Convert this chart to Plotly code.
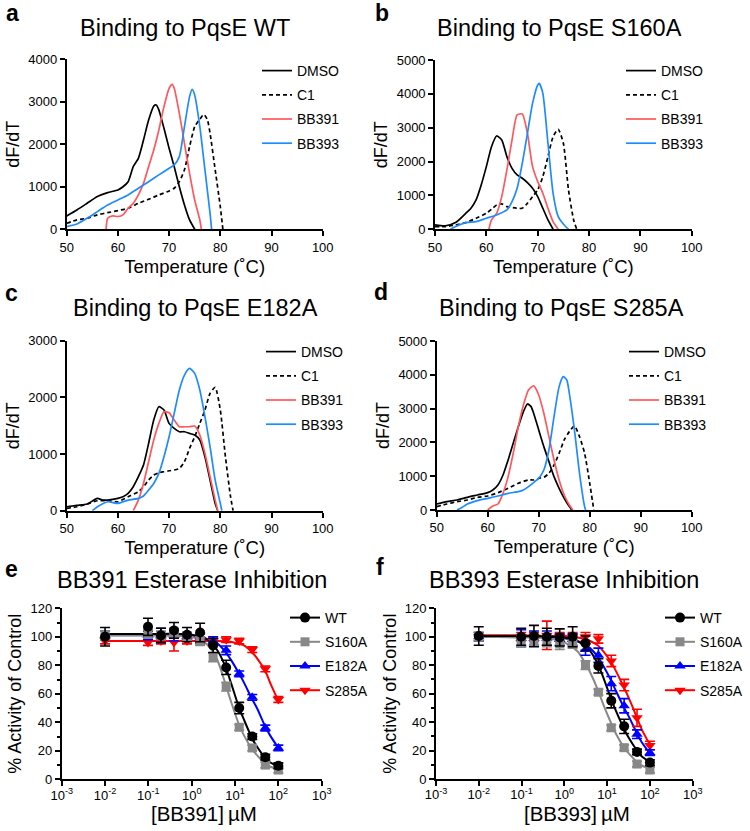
import plotly.graph_objects as go

# ---------------- Thermal shift data ----------------
# Panel a: PqsE WT
a_dmso_t = [50, 52, 54, 56, 58, 60, 61, 62, 63, 64, 65, 66, 67, 67.5, 68, 69, 70, 71, 72, 73, 74, 75]
a_dmso_v = [314, 455, 612, 770, 863, 925, 1000, 1120, 1475, 1670, 2100, 2570, 2900, 2925, 2810, 2376, 1905, 1475, 1000, 573, 220, 0]
a_c1_t = [50, 52, 54, 56, 58, 60, 62, 64, 66, 68, 70, 71, 72, 73, 74, 75, 76, 76.8, 77.5, 78, 79, 80, 80.5]
a_c1_v = [140, 220, 260, 340, 390, 440, 495, 610, 705, 808, 900, 965, 1120, 1400, 1945, 2415, 2590, 2705, 2570, 2260, 1400, 533, 0]
a_391_t = [57.7, 58, 59, 60, 61, 62, 63, 64, 65, 66, 67, 68, 69, 70, 70.6, 71, 72, 73, 74, 75, 76, 76.3]
a_391_v = [0, 260, 314, 300, 340, 495, 610, 808, 1080, 1475, 1865, 2337, 2886, 3318, 3412, 3318, 2730, 2023, 1318, 690, 220, 0]
a_393_t = [50, 52, 54, 56, 58, 60, 62, 64, 66, 68, 70, 71, 72, 73, 74, 74.5, 75, 76, 77, 78, 78.3]
a_393_v = [63, 125, 260, 416, 573, 690, 808, 965, 1120, 1280, 1435, 1515, 1710, 2416, 3122, 3294, 3160, 2416, 1396, 376, 0]

# Panel b: PqsE S160A
b_dmso_t = [50, 52, 54, 56, 57, 58, 59, 60, 61, 62, 63, 64, 65, 66, 67, 68, 69, 70, 71, 72, 73]
b_dmso_v = [128, 100, 197, 472, 620, 866, 1309, 1850, 2440, 2756, 2638, 2146, 1800, 1604, 1506, 1378, 1210, 965, 620, 276, 0]
b_c1_t = [50, 52, 54, 56, 58, 60, 61, 62, 63, 64, 66, 67, 68, 69, 70, 71, 72, 73, 74, 75, 76, 77, 77.6]
b_c1_v = [79, 79, 128, 197, 325, 472, 590, 718, 748, 670, 620, 620, 768, 965, 1161, 1555, 2146, 2736, 2953, 2540, 1161, 276, 0]
b_391_t = [60.5, 61, 62, 63, 64, 65, 66, 67, 68, 69, 70, 71, 72, 73, 74]
b_391_v = [0, 276, 472, 965, 1752, 2638, 3376, 3405, 2835, 1850, 1407, 1063, 620, 226, 0]
b_393_t = [53, 54, 56, 58, 60, 62, 64, 65, 66, 67, 68, 69, 70, 70.3, 71, 72, 73, 74, 75, 76]
b_393_v = [0, 79, 197, 226, 325, 423, 571, 817, 1210, 1949, 2835, 3720, 4262, 4311, 4016, 2540, 1063, 374, 157, 0]

# Panel c: PqsE E182A
c_dmso_t = [50, 52, 54, 56, 57, 58, 60, 61, 62, 63, 64, 65, 66, 67, 68, 69, 70, 71, 72, 73, 74, 75, 76, 77, 78, 79, 79.5]
c_dmso_v = [70, 94, 118, 218, 188, 188, 218, 247, 306, 424, 600, 806, 1188, 1600, 1835, 1776, 1541, 1453, 1394, 1394, 1365, 1335, 1247, 953, 541, 129, 0]
c_c1_t = [50, 52, 54, 56, 58, 60, 62, 64, 65, 66, 67, 68, 69, 70, 71, 72, 73, 74, 75, 76, 77, 78, 79, 80, 81, 82, 82.5]
c_c1_v = [41, 70, 118, 176, 176, 159, 247, 335, 424, 541, 630, 670, 688, 706, 718, 747, 865, 1100, 1306, 1541, 1776, 2070, 2176, 1776, 953, 247, 0]
c_391_t = [63, 64, 65, 66, 67, 68, 69, 70, 71, 72, 73, 74, 75, 76, 77, 78, 79, 79.5]
c_391_v = [0, 188, 482, 865, 1247, 1541, 1747, 1729, 1600, 1482, 1482, 1482, 1494, 1335, 1012, 600, 188, 0]
c_393_t = [55, 56, 58, 60, 62, 64, 65, 66, 67, 68, 69, 70, 71, 72, 73, 74, 75, 76, 77, 78, 79, 80, 80.3]
c_393_v = [0, 70, 159, 129, 188, 218, 259, 365, 482, 659, 953, 1306, 1718, 2129, 2394, 2512, 2424, 2129, 1659, 1129, 541, 129, 0]

# Panel d: PqsE S285A
d_dmso_t = [50, 52, 54, 56, 58, 60, 61, 62, 63, 64, 65, 66, 67, 67.8, 68.5, 69, 70, 71, 72, 73, 74, 75, 76, 76.5]
d_dmso_v = [177, 246, 296, 375, 444, 513, 592, 740, 1036, 1479, 1972, 2465, 2909, 3136, 3057, 2860, 2367, 1874, 1430, 986, 641, 345, 99, 0]
d_c1_t = [50, 52, 54, 56, 58, 60, 62, 64, 66, 68, 69, 70, 71, 72, 73, 74, 75, 76, 77, 78, 79, 80, 80.8]
d_c1_v = [99, 177, 246, 296, 375, 414, 513, 641, 789, 888, 888, 937, 966, 1085, 1331, 1677, 2071, 2318, 2485, 2170, 1677, 789, 0]
d_391_t = [60, 61, 62, 63, 64, 65, 66, 67, 68, 69, 70, 71, 72, 73, 74, 75, 76, 76.7]
d_391_v = [0, 118, 177, 493, 986, 1677, 2465, 3106, 3550, 3669, 3402, 2860, 2170, 1479, 888, 444, 148, 0]
d_393_t = [54, 55, 56, 58, 60, 62, 64, 66, 67, 68, 69, 70, 71, 72, 73, 74, 74.8, 75.5, 76, 77, 78, 79, 79.2]
d_393_v = [0, 79, 177, 276, 345, 414, 493, 542, 592, 690, 809, 937, 1183, 1775, 2761, 3649, 3945, 3846, 3452, 2367, 1085, 99, 0]

thermal_names = ["DMSO", "C1", "BB391", "BB393"]

# ---------------- Esterase inhibition data ----------------
conc = [0.01, 0.098, 0.195, 0.39, 0.78, 1.5625, 3.125, 6.25, 12.5, 25, 50, 100]
series_names = ["WT", "S160A", "E182A", "S285A"]

e_wt = [100, 107, 101, 104.5, 101.5, 103, 94, 78.5, 50, 30, 15.5, 9.5]
e_wt_err = [6.5, 6, 5, 5.5, 5, 6.5, 5, 5, 4, 2, 2, 2]
e_s160 = [101, 102, 101, 103, 100, 97, 85.5, 65, 36.5, 22, 10, 6.5]
e_s160_err = [3, 3, 3, 3, 3, 3, 3, 3, 2, 2, 2, 2]
e_e182 = [101, 101, 101, 101, 100, 99, 97, 90.5, 74, 57.5, 36, 22]
e_e182_err = [3, 3, 5, 4, 3, 3, 3, 3, 2, 2, 2, 2]
e_s285 = [97, 96, 97, 96, 97, 97, 97, 98, 97, 91, 77.5, 56]
e_s285_err = [2, 2, 2, 6, 2, 2, 2, 2, 2, 2, 2, 2]

f_wt = [100.5, 100, 100.5, 100, 99.5, 100, 95.5, 79.5, 55, 37, 19, 11.5]
f_wt_err = [6.5, 6, 7.5, 6, 6, 7, 5, 5, 5, 5, 2, 2]
f_s160 = [100, 97, 98, 97, 95, 95, 80, 61, 36, 22, 10.5, 6.3]
f_s160_err = [3, 4, 4, 4, 4, 3, 3, 2, 2, 2, 2, 2]
f_e182 = [100, 99, 99, 99, 98, 98, 91, 87, 67, 51.5, 31.5, 18.5]
f_e182_err = [3, 6, 5, 5, 4, 4, 4, 5, 5, 5, 3, 2]
f_s285 = [100, 100, 100, 101, 100, 100, 100, 98.5, 83, 66, 43, 23.5]
f_s285_err = [3, 3, 3, 10, 3, 3, 3, 3, 4, 4, 6, 3]

# fitted curves
fit_x = [0.01, 0.1, 0.5, 1, 2, 3, 4, 6, 8, 12.5, 16, 25, 32, 50, 64, 100]
e_wt_fit = [102, 102, 102, 101.5, 99, 95, 90, 79, 68, 50, 42, 28.5, 23, 15, 12, 9]
e_s160_fit = [101, 101, 100.5, 100, 96, 90, 83, 67, 55, 38, 31, 21, 17, 11, 9, 7]
e_e182_fit = [101, 101, 101, 100.5, 99, 97, 95, 89.5, 84, 74, 68, 56, 50, 37, 31, 22]
e_s285_fit = [97, 97, 97, 97, 97, 97, 97, 96.8, 96.5, 95, 94, 89, 85, 76, 68, 55]
f_wt_fit = [100.5, 100.5, 100, 99.5, 97, 94, 90, 81, 72, 56, 48, 35, 29, 20, 16, 12]
f_s160_fit = [100, 99.5, 98.5, 96, 90, 82, 75, 63, 53, 39, 32, 22, 18, 12, 9.5, 7]
f_e182_fit = [100, 100, 99.5, 99, 97, 94.5, 92, 86, 80, 69, 62, 50, 44, 32, 26, 18]
f_s285_fit = [101, 101, 100.5, 100.5, 99.5, 98.5, 97, 94, 90, 82, 76, 64, 57, 43, 35, 24]

# ---------------- Styling ----------------
FONT = "Liberation Sans, Arial, Helvetica, sans-serif"
RED = "#FF585D"
BLUE = "#1E8CFF"
therm_styles = [
    dict(color="black", dash="solid"),
    dict(color="black", dash="4px,3px"),
    dict(color=RED, dash="solid"),
    dict(color=BLUE, dash="solid"),
]
inh_colors = ["black", "#888888", "#0000FF", "#FF0000"]
inh_symbols = ["circle", "square", "triangle-up", "triangle-down"]
inh_sizes = [10, 9, 10, 10]

W, H = 750, 831
def px(x):
    return x / W
def py(y):
    return 1 - y / H

fig = go.Figure()

panels = [
    ("x", "y", "legend", [(a_dmso_t, a_dmso_v), (a_c1_t, a_c1_v), (a_391_t, a_391_v), (a_393_t, a_393_v)]),
    ("x2", "y2", "legend2", [(b_dmso_t, b_dmso_v), (b_c1_t, b_c1_v), (b_391_t, b_391_v), (b_393_t, b_393_v)]),
    ("x3", "y3", "legend3", [(c_dmso_t, c_dmso_v), (c_c1_t, c_c1_v), (c_391_t, c_391_v), (c_393_t, c_393_v)]),
    ("x4", "y4", "legend4", [(d_dmso_t, d_dmso_v), (d_c1_t, d_c1_v), (d_391_t, d_391_v), (d_393_t, d_393_v)]),
]
for pi, (xa, ya, lg, curves) in enumerate(panels):
    for ci, (t, v) in enumerate(curves):
        st = therm_styles[ci]
        fig.add_trace(go.Scatter(
            x=t, y=v, mode="lines", name=thermal_names[ci],
            line=dict(color=st["color"], dash=st["dash"], width=1.7, shape="spline", smoothing=0.6),
            xaxis=xa, yaxis=ya, legend=lg, legendgroup=f"p{pi}c{ci}", cliponaxis=False,
        ))

inh_panels = [
    ("x5", "y5", "legend5",
     [e_wt, e_s160, e_e182, e_s285], [e_wt_err, e_s160_err, e_e182_err, e_s285_err],
     [e_wt_fit, e_s160_fit, e_e182_fit, e_s285_fit]),
    ("x6", "y6", "legend6",
     [f_wt, f_s160, f_e182, f_s285], [f_wt_err, f_s160_err, f_e182_err, f_s285_err],
     [f_wt_fit, f_s160_fit, f_e182_fit, f_s285_fit]),
]
for pi, (xa, ya, lg, vals, errs, fits) in enumerate(inh_panels):
    order = [3, 2, 1, 0]  # draw WT on top
    for si in order:
        fig.add_trace(go.Scatter(
            x=fit_x, y=fits[si], mode="lines", showlegend=False,
            line=dict(color=inh_colors[si], width=2, shape="spline", smoothing=0.8),
            xaxis=xa, yaxis=ya, hoverinfo="skip",
        ))
    for si in order:
        fig.add_trace(go.Scatter(
            x=conc, y=vals[si], mode="markers", showlegend=False,
            marker=dict(color=inh_colors[si], symbol=inh_symbols[si], size=inh_sizes[si]),
            error_y=dict(type="data", array=errs[si], color=inh_colors[si], thickness=1.6, width=5),
            xaxis=xa, yaxis=ya, cliponaxis=False,
        ))
    for si in range(4):
        fig.add_trace(go.Scatter(
            x=[None], y=[None], mode="lines+markers", name=series_names[si],
            line=dict(color=inh_colors[si], width=2),
            marker=dict(color=inh_colors[si], symbol=inh_symbols[si], size=inh_sizes[si]),
            xaxis=xa, yaxis=ya, legend=lg, legendgroup=f"i{pi}s{si}",
        ))

axis_common = dict(
    showline=True, linecolor="black", linewidth=1.6, ticks="outside", ticklen=5,
    tickwidth=1.6, tickcolor="black", showgrid=False, zeroline=False,
    tickfont=dict(size=13, color="black", family=FONT), automargin=False,
)
title_font = dict(size=18.5, color="black", family=FONT)

doms = {
    "a": ([0.0889, 0.4303], [0.7241, 0.9286], 4000),
    "b": ([0.5800, 0.9223], [0.7241, 0.9278], 5000),
    "c": ([0.0889, 0.4303], [0.3854, 0.5900], 3000),
    "d": ([0.5823, 0.9223], [0.3863, 0.5897], 5000),
}
layout = dict(
    width=W, height=H, margin=dict(l=0, r=0, t=0, b=0),
    paper_bgcolor="white", plot_bgcolor="white",
    font=dict(family=FONT, color="black"),
)
for i, k in enumerate(["a", "b", "c", "d"]):
    n = "" if i == 0 else str(i + 1)
    xd, yd, ymax = doms[k]
    layout["xaxis" + n] = dict(axis_common, domain=xd, range=[50, 100], dtick=10, tick0=50,
                               anchor="y" + n,
                               title=dict(text="Temperature (˚C)", font=title_font, standoff=6))
    layout["yaxis" + n] = dict(axis_common, domain=yd, range=[0, ymax], dtick=1000,
                               anchor="x" + n,
                               title=dict(text="dF/dT", font=dict(title_font, size=18), standoff=4))

log_vals = [0.001, 0.01, 0.1, 1, 10, 100, 1000]
log_text = ["10<sup>-3</sup>", "10<sup>-2</sup>", "10<sup>-1</sup>", "10<sup>0</sup>",
            "10<sup>1</sup>", "10<sup>2</sup>", "10<sup>3</sup>"]
for n, xd, yd in [("5", [0.0823, 0.4289], [0.0622, 0.2680]),
                  ("6", [0.5813, 0.9236], [0.0626, 0.2680])]:
    layout["xaxis" + n] = dict(axis_common, domain=xd, type="log", range=[-3, 3],
                               tickmode="array", tickvals=log_vals, ticktext=log_text,
                               ticklabelstandoff=-2, anchor="y" + n)
    layout["yaxis" + n] = dict(axis_common, domain=yd, range=[0, 120], dtick=20,
                               anchor="x" + n,
                               minor=dict(ticks="outside", ticklen=3, tickwidth=1.6, dtick=10,
                                          tickcolor="black"),
                               title=dict(text="% Activity of Control", font=dict(title_font, size=18),
                                          standoff=4))

leg_common = dict(xanchor="left", yanchor="top", bgcolor="rgba(0,0,0,0)",
                  font=dict(size=14, color="black", family=FONT), tracegroupgap=3,
                  itemclick=False, itemdoubleclick=False)
layout["legend"] = dict(leg_common, x=px(257), y=py(55))
layout["legend2"] = dict(leg_common, x=px(621), y=py(55))
layout["legend3"] = dict(leg_common, x=px(261), y=py(336))
layout["legend4"] = dict(leg_common, x=px(624), y=py(336))
layout["legend5"] = dict(leg_common, x=px(285), y=py(602))
layout["legend6"] = dict(leg_common, x=px(660), y=py(602))

fig.update_layout(**layout)

titles = [
    ("Binding to PqsE WT", 185, 28), ("Binding to PqsE S160A", 559, 28),
    ("Binding to PqsE E182A", 195, 308), ("Binding to PqsE S285A", 561, 308),
    ("BB391 Esterase Inhibition", 192, 580), ("BB393 Esterase Inhibition", 564, 580),
]
for txt, x, y in titles:
    fig.add_annotation(text=txt, x=px(x), y=py(y), xref="paper", yref="paper",
                       xanchor="center", yanchor="middle", showarrow=False,
                       font=dict(size=23.5, color="black", family=FONT))

# x-axis titles of the inhibition panels
for txt, x, y in [("[BB391]\u2009µM", 204, 813), ("[BB393]\u2009µM", 577, 813)]:
    fig.add_annotation(text=txt, x=px(x), y=py(y), xref="paper", yref="paper",
                       xanchor="center", yanchor="middle", showarrow=False,
                       font=dict(size=20.5, color="black", family=FONT))

letters = [("a", 12, 13), ("b", 382, 13), ("c", 11, 293), ("d", 381, 292), ("e", 11, 569), ("f", 380, 567)]
for txt, x, y in letters:
    fig.add_annotation(text=f"<b>{txt}</b>", x=px(x), y=py(y), xref="paper", yref="paper",
                       xanchor="center", yanchor="middle", showarrow=False,
                       font=dict(size=23, color="black", family=FONT))

fig.write_html("out.html", config={"displayModeBar": False},
               post_script="document.body.style.margin='0';document.body.style.padding='0';")
